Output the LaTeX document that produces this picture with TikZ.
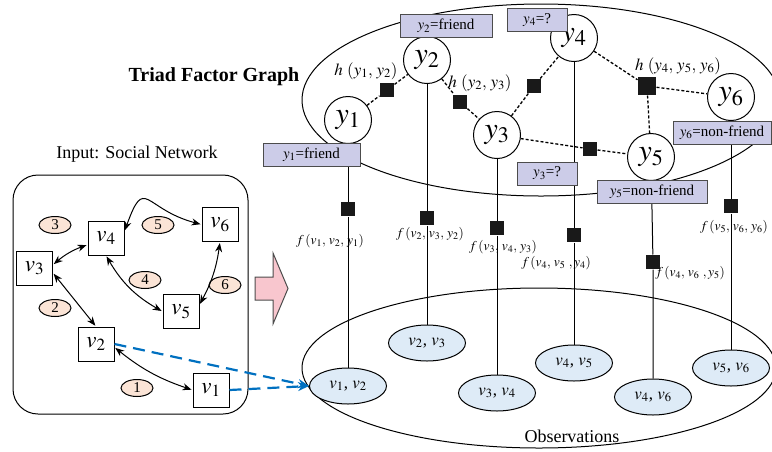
\documentclass[tikz,border=0pt]{standalone}
\usepackage{mathptmx}
\usepackage{fontspec}
\setmainfont{Liberation Serif}
\usetikzlibrary{shapes.geometric,arrows.meta}
\definecolor{boxblue}{RGB}{204,204,232}
\definecolor{obsblue}{RGB}{222,235,247}
\definecolor{peach}{RGB}{251,228,214}
\definecolor{arrowpink}{RGB}{248,198,206}
\definecolor{linkblue}{RGB}{0,112,192}
\newcommand{\fsz}[1]{\fontsize{#1}{#1}\selectfont}

\begin{document}
\begin{tikzpicture}[x=1pt,y=1pt,line width=1pt,
		ynode/.style={circle,draw,fill=white,minimum size=47pt,inner sep=0pt,font=\fsz{30}},
		ylab/.style={draw=black!70,fill=boxblue,minimum height=23pt,inner sep=0pt,font=\fsz{15}},
		vnode/.style={draw,fill=white,minimum width=36pt,minimum height=34pt,inner sep=0pt,font=\fsz{23}},
		obs/.style={ellipse,draw,fill=obsblue,minimum width=77pt,minimum height=36pt,inner sep=0pt,font=\fsz{17}},
		num/.style={ellipse,draw,fill=peach,minimum width=32pt,minimum height=17pt,inner sep=0pt,font=\fsz{15}},
		fac/.style={fill=black!90,minimum size=14pt,inner sep=0pt},
		hlink/.style={line width=1.3pt,dash pattern=on 3pt off 2pt},
		flab/.style={font=\fsz{13.5},inner sep=0pt},
		hlab/.style={font=\fsz{17},inner sep=0pt}]
	\useasboundingbox (0,0) rectangle (772,-451);
	% the two big groups
	\draw (541,-100) ellipse [x radius=239,y radius=96];
	\draw (539,-368) ellipse [x radius=237,y radius=80];
	
	% input network
	\node[draw,rounded corners=25pt,minimum width=235pt,minimum height=239pt] (net) at (130.5,-294.5) {};
	\node[font=\fsz{18}] (nettitle) at (137,-154) {Input: Social Network};
	\node[num] (n1) at (137,-388) {1};
	\node[num] (n2) at (55,-308) {2};
	\node[num] (n3) at (55,-225) {3};
	\node[num] (n4) at (145,-280) {4};
	\node[num] (n5) at (158,-225) {5};
	\node[num] (n6) at (225,-285) {6};
	\node[vnode] (v1) at (211,-390) {$v_1$};
	\node[vnode] (v2) at (96,-344) {$v_2$};
	\node[vnode] (v3) at (34.5,-268) {$v_3$};
	\node[vnode] (v4) at (106,-238) {$v_4$};
	\node[vnode] (v5) at (181,-311.5) {$v_5$};
	\node[vnode] (v6) at (220,-224.5) {$v_6$};
	\path[{Stealth[length=9pt,width=7pt]}-{Stealth[length=9pt,width=7pt]},shorten <=1pt,shorten >=1pt]
		(v3.10) edge[bend left=10] (v4.200)
		(v3.-15) edge (v2.north)
		(v4.south) edge[bend right=15] (v5.west)
		(v4.20) edge[out=70,in=165,looseness=2] (v6.west)
		(v5.20) edge[bend right=10] (v6.south)
		(v2.-10) edge[bend right=10] (v1.west);
	
	\draw[fill=arrowpink,draw=black!70] (255,-277) -- (273,-277) -- (273,-253) -- (288,-288.5) -- (273,-324) -- (273,-300) -- (255,-300) -- cycle;
	
	% triad factor graph
	\node[font=\bfseries\fsz{20}] (title) at (214,-77) {Triad Factor Graph};
	\node[ynode] (y1) at (348,-120) {$y_1$};
	\node[ynode] (y2) at (427,-60) {$y_2$};
	\node[ynode] (y3) at (497,-135) {$y_3$};
	\node[ynode] (y4) at (574,-38) {$y_4$};
	\node[ynode] (y5) at (651,-157) {$y_5$};
	\node[ynode] (y6) at (731,-97) {$y_6$};
	\node[fac] (h12) at (387,-90) {};
	\node[fac] (h23) at (460,-102) {};
	\node[fac] (h34) at (534,-86) {};
	\node[fac] (h35) at (590,-149) {};
	\node[fac,minimum size=18pt] (h456) at (647,-86) {};
	\node[hlab] (hl12) at (366,-71) {$h\ (y_1,\,y_2)$};
	\node[hlab] (hl23) at (480,-83) {$h\ (y_2,\,y_3)$};
	\node[hlab] (hl456) at (678,-66) {$h\ (y_4,\,y_5,\,y_6)$};
	\draw[hlink] (y1) -- (h12) -- (y2);
	\draw[hlink] (y2) -- (h23) -- (y3);
	\draw[hlink] (y3) -- (h34) -- (y4);
	\draw[hlink] (y3) -- (h35) -- (y5);
	\draw[hlink] (y4) -- (h456) -- (y6);
	\draw[hlink] (h456) -- (y5);
	
	% observations
	\node[obs] (o12) at (348,-386) {$v_1$, $v_2$};
	\node[obs] (o23) at (427,-343) {$v_2$, $v_3$};
	\node[obs] (o34) at (497,-393) {$v_3$, $v_4$};
	\node[obs] (o45) at (574,-363) {$v_4$, $v_5$};
	\node[obs] (o46) at (653,-397) {$v_4$, $v_6$};
	\node[obs] (o56) at (731,-368) {$v_5$, $v_6$};
	\node[font=\fsz{18}] (obstitle) at (572,-436) {Observations};
	\node[fac] (f1) at (348,-209) {};
	\node[fac] (f2) at (427,-218) {};
	\node[fac] (f3) at (497,-228) {};
	\node[fac] (f4) at (574,-235) {};
	\node[fac] (f5) at (653,-262) {};
	\node[fac] (f6) at (731,-206) {};
	\draw (y1) -- (f1) -- (o12);
	\draw (y2) -- (f2) -- (o23);
	\draw (y3) -- (f3) -- (o34);
	\draw (y4) -- (f4) -- (o45);
	\draw (y5) -- (f5) -- (o46);
	\draw (y6) -- (f6) -- (o56);
	\node[flab] (fl1) at (330,-241) {$f\,(v_1,\,v_2,\,y_1)$};
	\node[flab] (fl2) at (430,-234) {$f\,(v_2,\,v_3,\,y_2)$};
	\node[flab] (fl3) at (503,-247) {$f\,(v_3,\,v_4,\,y_3)$};
	\node[flab] (fl4) at (556,-263) {$f\,(v_4,\,v_5\ ,y_4)$};
	\node[flab] (fl5) at (690,-273) {$f\,(v_4,\,v_6\ ,y_5)$};
	\node[flab] (fl6) at (734,-227) {$f\,(v_5,\,v_6,\,y_6)$};
	
	% labels of the y nodes
	\node[ylab,minimum width=97pt] (l1) at (311.5,-154.5) {$y_1$=friend};
	\node[ylab,minimum width=92pt] (l2) at (446,-26) {$y_2$=friend};
	\node[ylab,minimum width=60pt] (l3) at (547,-173.5) {$y_3$=?};
	\node[ylab,minimum width=60pt] (l4) at (537,-20) {$y_4$=?};
	\node[ylab,minimum width=110pt] (l5) at (652,-191.5) {$y_5$=non-friend};
	\node[ylab,minimum width=98pt] (l6) at (722,-132.5) {$y_6$=non-friend};
	
	\path[-{Stealth[length=11pt,width=9pt]},linkblue,line width=2.2pt,dash pattern=on 12pt off 7pt]
		(v2.east) edge (o12.west)
		(v1.east) edge (o12.west);
\end{tikzpicture}
\end{document}
